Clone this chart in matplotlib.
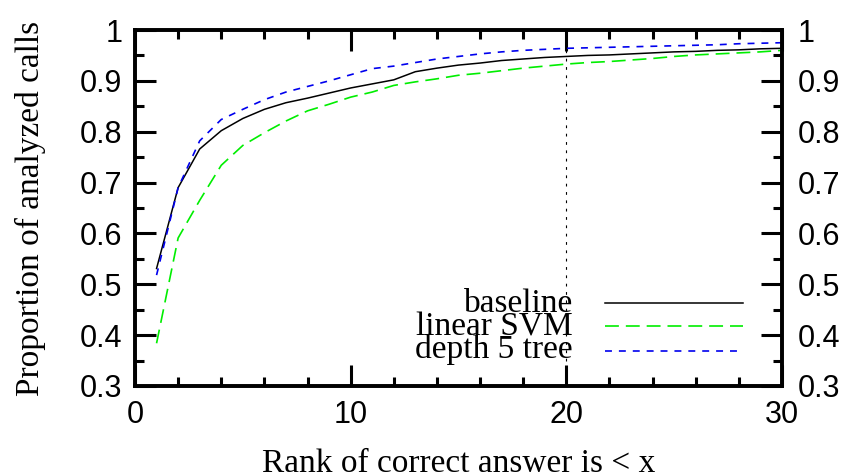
import matplotlib
matplotlib.use("Agg")
import matplotlib.pyplot as plt
from matplotlib.ticker import MultipleLocator, FuncFormatter
from matplotlib.lines import Line2D

plt.rcParams['lines.scale_dashes'] = False

rank = list(range(1, 31))
baseline = [0.531, 0.690, 0.766, 0.802, 0.826, 0.844, 0.857, 0.866, 0.876, 0.886,
            0.894, 0.902, 0.918, 0.925, 0.931, 0.935, 0.940, 0.943, 0.946, 0.948,
            0.950, 0.951, 0.953, 0.955, 0.957, 0.958, 0.960, 0.961, 0.963, 0.964]
linear_svm = [0.384, 0.591, 0.665, 0.734, 0.773, 0.798, 0.821, 0.841, 0.854, 0.868,
              0.878, 0.891, 0.898, 0.904, 0.911, 0.915, 0.920, 0.925, 0.929, 0.933,
              0.936, 0.938, 0.941, 0.944, 0.948, 0.951, 0.953, 0.955, 0.957, 0.960]
depth5_tree = [0.518, 0.690, 0.782, 0.824, 0.844, 0.863, 0.878, 0.889, 0.900, 0.912,
               0.924, 0.929, 0.936, 0.943, 0.948, 0.953, 0.957, 0.960, 0.962, 0.964,
               0.965, 0.966, 0.967, 0.968, 0.969, 0.970, 0.971, 0.973, 0.974, 0.975]
series_names = ["baseline", "linear SVM", "depth 5 tree"]
cutoff_rank = 20

SANS = "Liberation Sans"
serif = dict(family="Liberation Serif", fontsize=24)

fig = plt.figure(figsize=(8.49, 4.74), dpi=100)
ax = fig.add_axes([0.159, 0.1857, 0.762, 0.751])

styles = [
    dict(color="black", lw=1.1, linestyle="-"),
    dict(color="#00ee00", lw=1.2, dashes=(10, 5)),
    dict(color="#0000ee", lw=1.2, dashes=(5, 5)),
]

ax.axvline(cutoff_rank, color="black", lw=0.8, dashes=(2, 4))
for ys, st in zip([baseline, linear_svm, depth5_tree], styles):
    ax.plot(rank, ys, **st)

fmt = FuncFormatter(lambda v, p: "%g" % round(v, 2))


def style_axis(a):
    a.set_xlim(0, 30)
    a.set_ylim(0.3, 1.0)
    a.xaxis.set_major_locator(MultipleLocator(10))
    a.xaxis.set_minor_locator(MultipleLocator(2))
    a.yaxis.set_major_locator(MultipleLocator(0.1))
    a.yaxis.set_minor_locator(MultipleLocator(0.05))
    a.xaxis.set_major_formatter(fmt)
    a.yaxis.set_major_formatter(fmt)
    for s in a.spines.values():
        s.set_linewidth(2.6)
    a.tick_params(which="both", direction="in", width=2.2)
    a.tick_params(which="major", length=15, labelsize=22)
    a.tick_params(which="minor", length=6.5)


style_axis(ax)
ax.tick_params(which="both", top=True, right=False)
ax.tick_params(axis="x", which="major", pad=10)
ax.tick_params(axis="y", which="major", pad=9)

# mirrored value axis on the right
ax_r = ax.twinx()
style_axis(ax_r)
ax_r.tick_params(axis="y", which="major", pad=11.5)

for a in (ax, ax_r):
    for t in a.get_xticklabels() + a.get_yticklabels():
        t.set_fontfamily(SANS)

ax.set_xlabel("Rank of correct answer is < x", va="baseline", **serif)
ax.xaxis.set_label_coords(0.5008, -0.2416)
ax.set_ylabel("Proportion of analyzed calls", va="center", **serif)
ax.yaxis.set_label_coords(-0.162, 0.5)

# key, gnuplot style: right-aligned labels followed by line samples
line_rows = [0.234, 0.1685, 0.0992]
text_rows = [0.208, 0.143, 0.0787]
for name, st, yl, yt in zip(series_names, styles, line_rows, text_rows):
    ax.text(0.677, yt, name, transform=ax.transAxes, ha="right", va="baseline", **serif)
    ax.add_line(Line2D([0.7264, 0.9397], [yl, yl], transform=ax.transAxes, **st))

fig.savefig("out.png", dpi=100)
